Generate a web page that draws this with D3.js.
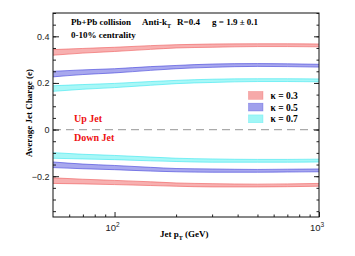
<!DOCTYPE html>
<html>
<head>
<meta charset="utf-8">
<script src="https://cdn.jsdelivr.net/npm/d3@7"></script>
<style>
  body { margin: 0; background: #fff; }
  svg { display: block; }
</style>
</head>
<body>
<div id="chart"></div>
<script>
// Data
var pt = [50, 70, 100, 150, 200, 300, 500, 700, 1000];

var upK03Lo = [0.319, 0.328, 0.335, 0.344, 0.350, 0.353, 0.356, 0.356, 0.355];
var upK03Hi = [0.343, 0.348, 0.353, 0.360, 0.364, 0.367, 0.368, 0.368, 0.367];
var upK05Lo = [0.226, 0.236, 0.243, 0.254, 0.261, 0.267, 0.271, 0.270, 0.268];
var upK05Hi = [0.250, 0.256, 0.261, 0.270, 0.275, 0.281, 0.283, 0.282, 0.280];
var upK07Lo = [0.164, 0.173, 0.180, 0.190, 0.197, 0.202, 0.206, 0.206, 0.205];
var upK07Hi = [0.188, 0.193, 0.198, 0.206, 0.211, 0.216, 0.218, 0.218, 0.217];

var dnK07Lo = [-0.123, -0.126, -0.129, -0.134, -0.137, -0.140, -0.140, -0.140, -0.139];
var dnK07Hi = [-0.099, -0.106, -0.111, -0.118, -0.123, -0.126, -0.128, -0.128, -0.127];
var dnK05Lo = [-0.163, -0.168, -0.172, -0.178, -0.181, -0.183, -0.183, -0.182, -0.181];
var dnK05Hi = [-0.139, -0.148, -0.154, -0.162, -0.167, -0.169, -0.171, -0.170, -0.169];
var dnK03Lo = [-0.231, -0.233, -0.236, -0.240, -0.243, -0.246, -0.246, -0.245, -0.243];
var dnK03Hi = [-0.207, -0.213, -0.218, -0.224, -0.229, -0.232, -0.234, -0.233, -0.231];

var legendLabels = ["\u03ba = 0.3", "\u03ba = 0.5", "\u03ba = 0.7"];
var yTickLabels = [-0.2, 0, 0.2, 0.4];

// Set up the chart
var svgWidth = 355;
var svgHeight = 256;
var margin = { top: 13, right: 36, bottom: 39, left: 53 };
var width = svgWidth - margin.left - margin.right;
var height = svgHeight - margin.top - margin.bottom;

var colors = {
  k03: { fill: "#f07070", line: "#f06060" },
  k05: { fill: "#6060e0", line: "#4848dd" },
  k07: { fill: "#60f0f0", line: "#40e8f0" }
};

var svg = d3.select("#chart")
  .append("svg")
  .attr("width", svgWidth)
  .attr("height", svgHeight);

var chartGroup = svg.append("g")
  .attr("transform", `translate(${margin.left}, ${margin.top})`);

var xScale = d3.scaleLog().domain([50, 1000]).range([0, width]);
var yScale = d3.scaleLinear().domain([-0.375, 0.5]).range([height, 0]);

// Zero line
chartGroup.append("line")
  .attr("x1", 0).attr("x2", width)
  .attr("y1", yScale(0)).attr("y2", yScale(0))
  .attr("stroke", "#aaa")
  .attr("stroke-width", 1.2)
  .attr("stroke-dasharray", "8,5");

// Bands
var bands = [
  { lo: upK03Lo, hi: upK03Hi, c: colors.k03 },
  { lo: upK05Lo, hi: upK05Hi, c: colors.k05 },
  { lo: upK07Lo, hi: upK07Hi, c: colors.k07 },
  { lo: dnK07Lo, hi: dnK07Hi, c: colors.k07 },
  { lo: dnK05Lo, hi: dnK05Hi, c: colors.k05 },
  { lo: dnK03Lo, hi: dnK03Hi, c: colors.k03 }
];

var area = d3.area()
  .x((d, i) => xScale(pt[i]))
  .y0(d => yScale(d[0]))
  .y1(d => yScale(d[1]))
  .curve(d3.curveMonotoneX);

var edge = d3.line()
  .x((d, i) => xScale(pt[i]))
  .y(d => yScale(d))
  .curve(d3.curveMonotoneX);

bands.forEach(function(b) {
  var pts = pt.map((p, i) => [b.lo[i], b.hi[i]]);
  chartGroup.append("path")
    .attr("d", area(pts))
    .attr("fill", b.c.fill)
    .attr("fill-opacity", 0.55);
  [b.lo, b.hi].forEach(function(arr) {
    chartGroup.append("path")
      .attr("d", edge(arr))
      .attr("fill", "none")
      .attr("stroke", b.c.line)
      .attr("stroke-opacity", 0.8)
      .attr("stroke-width", 0.8);
  });
});

// Axes (ticks inward)
var yMinor = d3.range(-0.35, 0.5001, 0.05).map(v => Math.round(v * 100) / 100);

chartGroup.append("g")
  .call(d3.axisRight(yScale).tickValues(yMinor).tickSize(3).tickFormat(""))
  .call(g => g.select(".domain").remove());
chartGroup.append("g")
  .call(d3.axisRight(yScale).tickValues(yTickLabels).tickSize(6).tickFormat(""))
  .call(g => g.select(".domain").remove());
chartGroup.append("g")
  .call(d3.axisLeft(yScale).tickValues(yTickLabels).tickSize(0).tickPadding(3.5)
    .tickFormat(d => d === 0 ? "0" : d3.format(".1f")(d).replace("-", "\u2212")))
  .call(g => g.select(".domain").remove())
  .selectAll("text")
  .style("font-family", "Liberation Sans, Arial, sans-serif")
  .style("font-size", "9px")
  .attr("fill", "#222");

chartGroup.append("g")
  .attr("transform", `translate(${width},0)`)
  .call(d3.axisLeft(yScale).tickValues(yMinor).tickSize(2.5).tickFormat(""))
  .call(g => g.select(".domain").remove());
chartGroup.append("g")
  .attr("transform", `translate(${width},0)`)
  .call(d3.axisLeft(yScale).tickValues(yTickLabels).tickSize(5).tickFormat(""))
  .call(g => g.select(".domain").remove());

var xMinor = [60, 70, 80, 90, 200, 300, 400, 500, 600, 700, 800, 900];
chartGroup.append("g")
  .attr("transform", `translate(0, ${height})`)
  .call(d3.axisTop(xScale).tickValues(xMinor).tickSize(2.5).tickFormat(""))
  .call(g => g.select(".domain").remove());
chartGroup.append("g")
  .attr("transform", `translate(0, ${height})`)
  .call(d3.axisTop(xScale).tickValues([100, 1000]).tickSize(5).tickFormat(""))
  .call(g => g.select(".domain").remove());

chartGroup.selectAll(".tick line").attr("stroke", "#222");

// x tick labels 10^2, 10^3
[100, 1000].forEach(function(v) {
  var t = chartGroup.append("text")
    .attr("x", xScale(v) - 2)
    .attr("y", height + 14)
    .attr("text-anchor", "middle")
    .style("font-family", "Liberation Sans, Arial, sans-serif")
    .style("font-size", "9.5px")
    .attr("fill", "#222");
  t.append("tspan").text("10");
  t.append("tspan").attr("dy", -4).style("font-size", "6.5px").text(Math.log10(v));
});

// Frame
chartGroup.append("rect")
  .attr("width", width).attr("height", height)
  .attr("fill", "none")
  .attr("stroke", "#111")
  .attr("stroke-width", 1);

// Labels
var serif = "Liberation Serif, Times New Roman, serif";

var xl = chartGroup.append("text")
  .attr("x", 107)
  .attr("y", height + 20)
  .style("font-family", serif).style("font-weight", "bold").style("font-size", "9px");
xl.append("tspan").text("Jet p");
xl.append("tspan").attr("dy", 3).style("font-size", "6px").text("T");
xl.append("tspan").attr("dy", -3).text(" (GeV)");

chartGroup.append("text")
  .attr("transform", "rotate(-90)")
  .attr("x", -(113 - margin.top))
  .attr("y", -21)
  .attr("text-anchor", "middle")
  .style("font-family", serif).style("font-weight", "bold").style("font-size", "9px")
  .text("Average Jet Charge (e)");

var t1 = svg.append("text")
  .attr("x", 71).attr("y", 25)
  .style("font-family", serif).style("font-weight", "bold").style("font-size", "9px");
t1.append("tspan").text("Pb+Pb collision");
t1.append("tspan").attr("x", 142).text("Anti-k");
t1.append("tspan").attr("dy", 2.5).style("font-size", "6px").text("T");
t1.append("tspan").attr("dy", -2.5).attr("x", 177).text("R=0.4");
t1.append("tspan").attr("x", 212).text("g = 1.9  \u00b1 0.1");

svg.append("text")
  .attr("x", 71).attr("y", 37.5)
  .style("font-family", serif).style("font-weight", "bold").style("font-size", "9px")
  .text("0-10% centrality");

svg.append("text")
  .attr("x", 74).attr("y", 122)
  .attr("fill", "#ee1111")
  .style("font-family", serif).style("font-weight", "bold").style("font-size", "10px")
  .text("Up Jet");

svg.append("text")
  .attr("x", 74).attr("y", 140.5)
  .attr("fill", "#ee1111")
  .style("font-family", serif).style("font-weight", "bold").style("font-size", "10px")
  .text("Down Jet");

// Legend
var legendColors = [colors.k03, colors.k05, colors.k07];
var legend = svg.append("g").attr("transform", "translate(248.5, 91.5)");
legendLabels.forEach(function(lab, i) {
  legend.append("rect")
    .attr("x", 0).attr("y", i * 11.7)
    .attr("width", 14.5).attr("height", 7.8)
    .attr("fill", legendColors[i].fill)
    .attr("fill-opacity", 0.6)
    .attr("stroke", legendColors[i].line)
    .attr("stroke-opacity", 0.5)
    .attr("stroke-width", 0.6);
  legend.append("text")
    .attr("x", 22).attr("y", i * 11.7 + 7.5)
    .style("font-family", serif).style("font-weight", "bold").style("font-size", "9.5px")
    .text(lab);
});
</script>
</body>
</html>
